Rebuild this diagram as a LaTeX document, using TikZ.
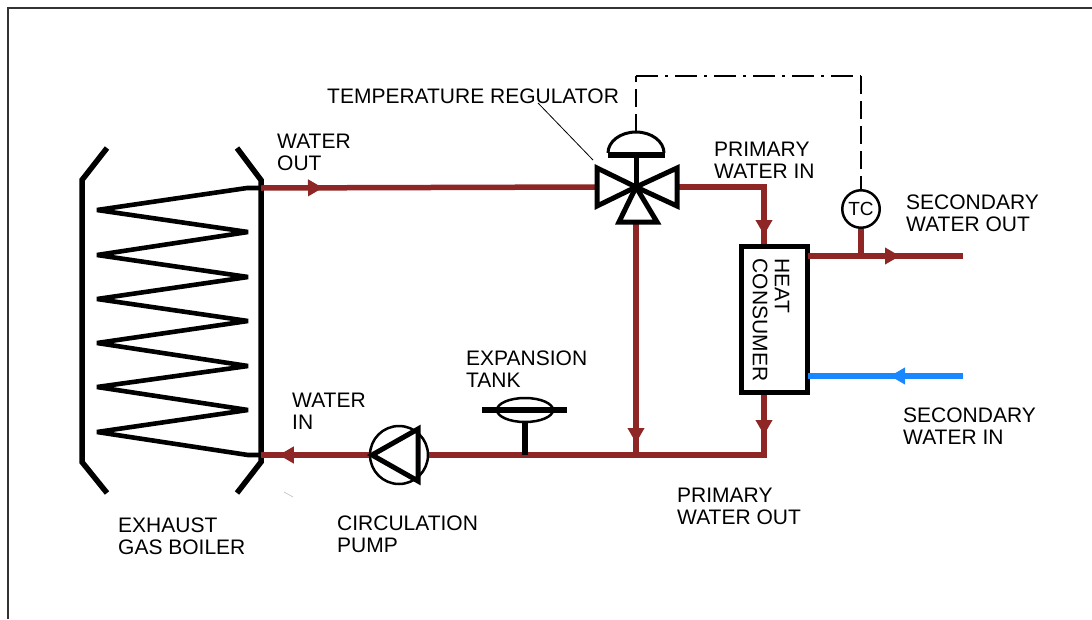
\documentclass[tikz,border=0pt]{standalone}
\usepackage{fontspec}
\setmainfont{Liberation Sans}
\usetikzlibrary{arrows.meta,decorations.markings}
\definecolor{pipered}{RGB}{142,38,38}
\definecolor{pipeblue}{RGB}{25,135,255}
\begin{document}
\begin{tikzpicture}[x=1pt,y=-1pt,
  pipe/.style={draw=pipered,line width=5.5pt},
  bluepipe/.style={draw=pipeblue,line width=5.5pt},
  flowr/.style={postaction={decorate},decoration={markings,mark=at position #1 with {\arrow[color=pipered]{Triangle[length=15pt,width=16pt]}}}},
  flowb/.style={postaction={decorate},decoration={markings,mark=at position #1 with {\arrow[color=pipeblue]{Triangle[length=15pt,width=16pt]}}}},
  lbl/.style={font=\fontsize{21}{22}\selectfont, align=left, inner sep=0pt, anchor=west},
  heavy/.style={draw=black, line width=5pt, line join=miter},
  thinsym/.style={draw=black, line width=2.5pt},
  ctrl/.style={draw=black, line width=2.5pt},
]
\useasboundingbox (0,0) rectangle (1092,619);
% frame
\draw[line width=1.5pt, black!80] (8,619) -- (8,8) -- (1092,8);

% ---------- boiler ----------
\draw[heavy, line width=5.5pt] (107,148) -- (82,180) -- (82,462) -- (107,493);
\draw[heavy, line width=5.5pt] (237,148) -- (261,180) -- (261,462) -- (237,493);
\draw[heavy, line width=4.6pt, line join=bevel] (261,188) -- (247,188) -- (97,210) -- (248,232) -- (97,255) -- (248,277)
  -- (97,299) -- (248,321) -- (97,343) -- (248,366) -- (97,387) -- (248,410) -- (97,432)
  -- (248,455) -- (261,455);

% ---------- named points ----------
\coordinate (bout) at (261,188);
\coordinate (bin) at (261,455);
\coordinate (vL) at (597,187);
\coordinate (vR) at (677,187);
\coordinate (vC) at (636,187);
\coordinate (vB) at (636,222);
\coordinate (pR1) at (764,187);
\coordinate (hcIn) at (764,246);
\coordinate (hcOut) at (764,393);
\coordinate (jB) at (764,455);
\coordinate (jV) at (636,455);
\coordinate (tkB) at (525,455);
\coordinate (sOut) at (963,256);
\coordinate (sOutS) at (808,256);
\coordinate (sIn) at (963,376);
\coordinate (sInS) at (808,376);
\coordinate (tcJ) at (861,256);
\coordinate (dTop1) at (636,76);
\coordinate (dTop2) at (861,76);
\coordinate (domeTop) at (636,132);

% ---------- pipes ----------
\draw[pipe, flowr=62pt] (bout) -- (vL);
\draw[pipe, flowr=135pt] (vR) -- (pR1) -- (hcIn);
\draw[pipe, flowr=221pt] (vB) -- (jV);
\draw[pipe, flowr=42pt] (hcOut) -- (jB) -- (jV);

% heat consumer
\node[draw, line width=5pt, fill=white, minimum width=66pt, minimum height=146pt, inner sep=0pt] (hc) at (774.5,319.5) {};
\node[font=\fontsize{21}{22}\selectfont, align=left, inner sep=0pt, rotate=-90] (hctext) at (771,320) {HEAT\\CONSUMER};

% pump
\node[circle, draw, line width=2.5pt, minimum size=58pt, inner sep=0pt] (pump) at (399,455) {};
\draw[pipe] (jV) -- (pump.east);
\draw[pipe, flowr=90pt] (pump.west) -- (bin);
\draw[heavy] (372,455) -- (418,429) -- (418,481) -- cycle;

% secondary pipes
\draw[pipe, flowr=92pt] (sOutS) -- (sOut);
\draw[bluepipe, flowb=73pt] (sIn) -- (sInS);

% TC
\node[circle, draw, line width=2.5pt, minimum size=37.5pt, inner sep=0pt, fill=white, font=\fontsize{19}{20}\selectfont] (tc) at (861,209) {TC};
\draw[pipe] (tc.south) -- (tcJ);

% expansion tank
\draw[pipe, draw=black] (tkB) -- (525,410);
\draw[thinsym, fill=white] (525,410) ellipse[x radius=28, y radius=12];
\draw[heavy, line width=5.5pt] (482,410) -- (567,410);

% valve
\draw[heavy, fill=white] (597,168) -- (597,206) -- (vC) -- cycle;
\draw[heavy, fill=white] (677,168) -- (677,206) -- (vC) -- cycle;
\draw[heavy, fill=white] (619,222) -- (657,222) -- (vC) -- cycle;
\draw[heavy] (vC) -- (636,155);
\draw[heavy, line width=5.5pt] (608,155) -- (665,155);
\draw[thinsym, line width=3pt] (608,153) arc[start angle=180, end angle=360, x radius=28, y radius=21];

% control line
\draw[ctrl, dash pattern=on 18pt off 7pt] (domeTop) -- (dTop1);
\draw[ctrl, dash pattern=on 22pt off 7pt on 3pt off 7pt] (dTop1) -- (dTop2);
\draw[ctrl, dash pattern=on 18pt off 7pt] (dTop2) -- (tc.north);

% leader line
\coordinate (ldA) at (538,103);
\coordinate (ldB) at (593,160);
\draw[line width=0.8pt] (ldA) -- (ldB);
\draw[line width=0.6pt, black!25] (284,492) -- (293,497);

% ---------- labels ----------
\node[lbl] (tTR) at (327,96) {TEMPERATURE REGULATOR};
\node[lbl] (tWO) at (277,152.5) {WATER\\OUT};
\node[lbl] (tPWI) at (714,160.5) {PRIMARY\\WATER IN};
\node[lbl] (tSWO) at (906,213) {SECONDARY\\WATER OUT};
\node[lbl] (tET) at (466,369) {EXPANSION\\TANK};
\node[lbl] (tWI) at (292,411) {WATER\\IN};
\node[lbl] (tSWI) at (903,426) {SECONDARY\\WATER IN};
\node[lbl] (tPWO) at (677,506) {PRIMARY\\WATER OUT};
\node[lbl] (tEGB) at (118,536) {EXHAUST\\GAS BOILER};
\node[lbl] (tCP) at (337,534) {CIRCULATION\\PUMP};
\end{tikzpicture}
\end{document}
